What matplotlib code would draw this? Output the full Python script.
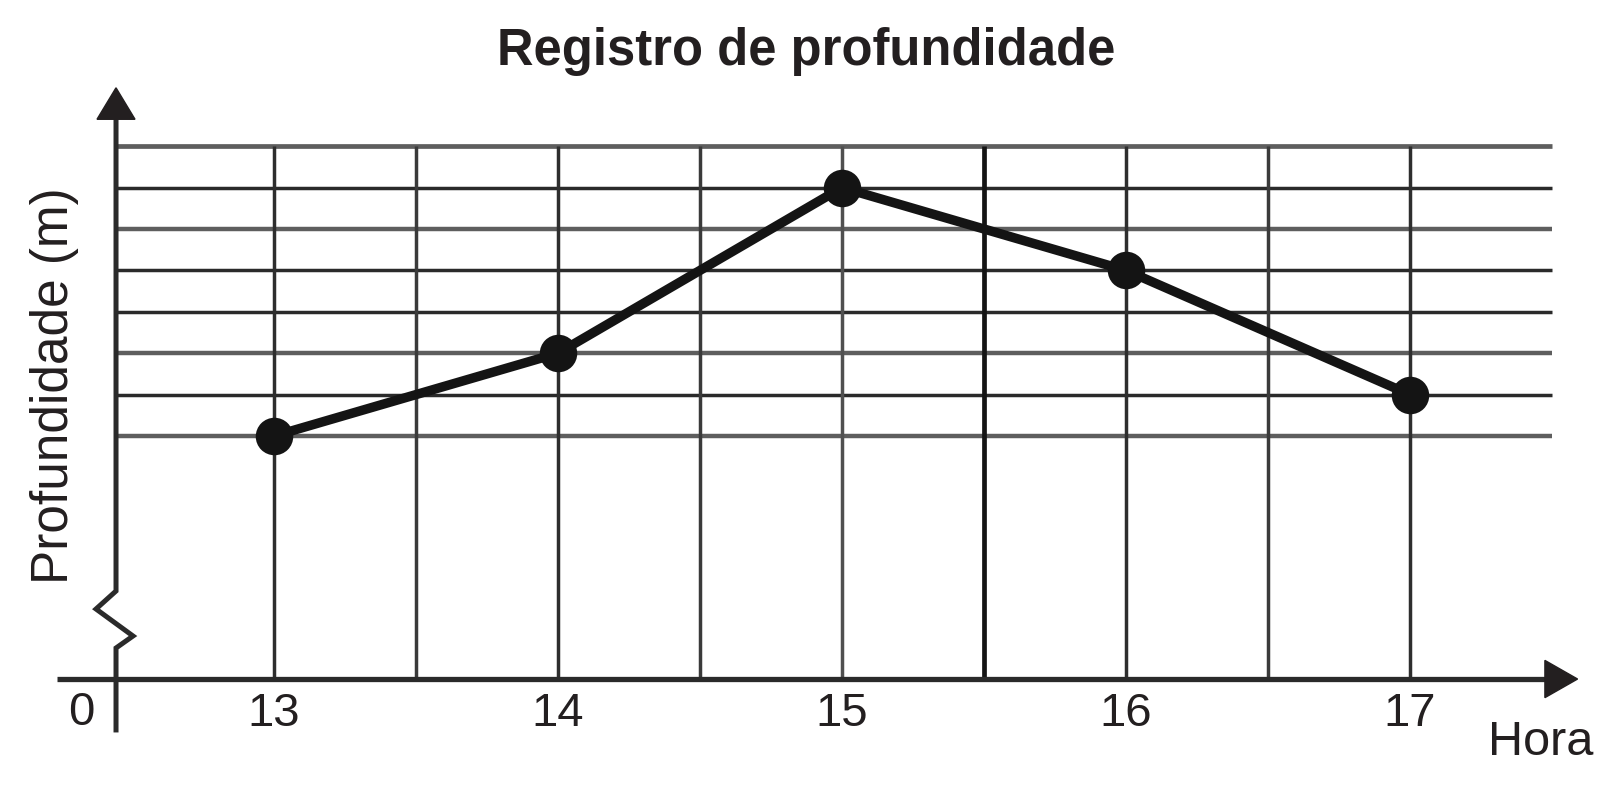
import numpy as np
import matplotlib
matplotlib.use('Agg')
import matplotlib.pyplot as plt
from matplotlib.patches import Polygon

## data (depth in grid units, no scale printed)
horas = [13, 14, 15, 16, 17]
profundidade = [1, 3, 7, 5, 2]
tick_labels = ['13', '14', '15', '16', '17']
grid_levels = [1, 2, 3, 4, 5, 6, 7, 8]
half_hours = [13.5, 14.5, 15.5, 16.5]

ink = '#231f20'
plt.rcParams['font.family'] = ['Liberation Sans', 'DejaVu Sans']

fig = plt.figure(figsize=(16.19, 8), dpi=100)
ax = fig.add_axes([0, 0, 1, 1])
ax.set_xlim(12.0352, 17.7359)
ax.set_ylim(-7.792, 11.531)
ax.axis('off')

x_axis_y = -4.87
y_axis_x = 12.4437
grid_right = 17.5

## horizontal grid lines (alternating look of the scan)
h_styles = {8: ('#5e5e5e', 3.4), 7: ('#2a2a2a', 2.5), 6: ('#5e5e5e', 3.2), 5: ('#2a2a2a', 2.5),
            4: ('#2a2a2a', 2.5), 3: ('#5e5e5e', 3.2), 2: ('#2a2a2a', 2.5), 1: ('#5e5e5e', 3.2)}
for lv in grid_levels:
    c, lw = h_styles[lv]
    ax.plot([y_axis_x, grid_right], [lv, lv], color=c, lw=lw, solid_capstyle='butt', zorder=1)

## vertical grid lines
for h in horas:
    c = '#505050' if h == 15 else '#2e2e2e'
    ax.plot([h, h], [x_axis_y, max(grid_levels)], color=c, lw=2.5, solid_capstyle='butt', zorder=1)
for h in half_hours:
    lw = 3.4 if h == 15.5 else 2.5
    c = '#141414' if h == 15.5 else '#3a3a3a'
    ax.plot([h, h], [x_axis_y, max(grid_levels)], color=c, lw=lw, solid_capstyle='butt', zorder=1)

## x axis with arrow
ax.plot([12.236, 17.52], [x_axis_y, x_axis_y], color='#2a2a2a', lw=3.8, solid_capstyle='butt', zorder=2)
ax.add_patch(Polygon([[17.475, x_axis_y + 0.45], [17.475, x_axis_y - 0.45], [17.59, x_axis_y]],
                     closed=True, color=ink, zorder=3))

## y axis with break and arrow
dx = 1 / 284.0
dy = 1 / 41.4
brk = [(y_axis_x, -6.1), (y_axis_x, 1 - (648 - 436) * dy),
       (y_axis_x + 17 * dx, 1 - (636 - 436) * dy),
       (y_axis_x - 20 * dx, 1 - (609 - 436) * dy),
       (y_axis_x, 1 - (591 - 436) * dy), (y_axis_x, 8.6)]
ax.plot([p[0] for p in brk], [p[1] for p in brk], color='#2a2a2a', lw=3.6, solid_joinstyle='miter', zorder=2)
ax.add_patch(Polygon([[y_axis_x - 19 * dx, 8.65], [y_axis_x + 19 * dx, 8.65], [y_axis_x, 9.41]],
                     closed=True, color=ink, zorder=3))

## data line
ax.plot(horas, profundidade, color='#141414', lw=6.8, marker='o', ms=27,
        markerfacecolor='#141414', markeredgewidth=0, zorder=5)

## texts
for h, lab in zip(horas, tick_labels):
    ax.text(h, 1 - (714 - 436) * dy, lab, fontsize=34, color=ink, ha='center', va='center')
ax.text(13 + (81 - 274) * dx, 1 - (713 - 436) * dy, '0', fontsize=34, color=ink, ha='center', va='center')
ax.text(13 + (1541 - 274) * dx, 1 - (742 - 436) * dy, 'Hora', fontsize=35, color=ink, ha='center', va='center')
ax.text(13 + (54 - 274) * dx, 1 - (386 - 436) * dy, 'Profundidade (m)', fontsize=37, color=ink,
        ha='center', va='center', rotation=90)
ax.text(13 + (806 - 274) * dx, 1 - (52 - 436) * dy, 'Registro de profundidade', fontsize=36.5,
        fontweight='bold', color=ink, ha='center', va='center')

fig.savefig('out.png', dpi=100, facecolor='white')
